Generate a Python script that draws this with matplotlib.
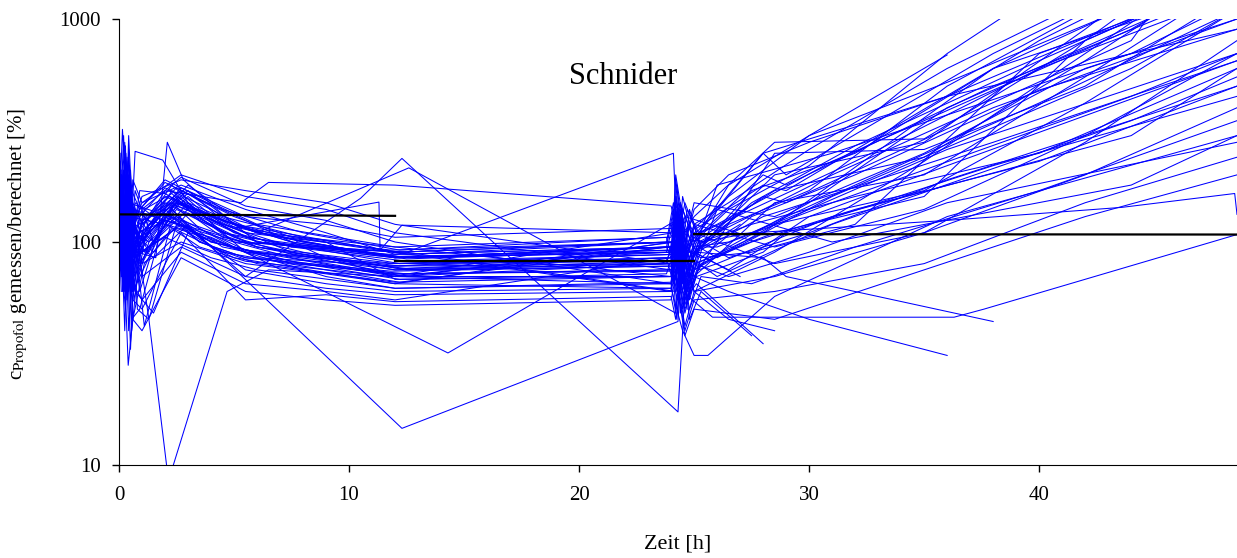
import matplotlib
matplotlib.use("Agg")
import matplotlib.pyplot as plt

# sampling schedules (h) shared by groups of patients
S1 = [0.05, 0.2, 0.35, 0.55, 0.9, 2.0, 4.0, 6.0, 12.0, 24.0, 24.25, 24.5, 25.0, 26.5, 30.0, 36.0, 48.6]
S2 = [0.1, 0.25, 0.45, 0.65, 1.3, 2.5, 5.0, 7.5, 12.5, 24.2, 24.4, 24.8, 25.3, 27.5, 32.0, 40.0, 48.6]
S3 = [0.08, 0.3, 0.5, 0.7, 1.5, 3.0, 4.5, 8.0, 12.2, 23.8, 24.1, 24.6, 25.1, 28.0, 29.0, 38.0, 48.6]
S4 = [0.03, 0.15, 0.4, 0.6, 1.1, 2.3, 3.5, 5.5, 11.8, 24.1, 24.3, 24.7, 25.2, 26.0, 31.0, 44.0, 48.6]
S5 = [0.12, 0.28, 0.42, 0.6, 1.0, 2.7, 5.5, 9.0, 12.0, 24.0, 24.2, 24.6, 25.0, 28.5, 35.0, 42.0, 48.6]

# measured/predicted propofol concentration [%], one list per patient
A1 = [180, 95, 240, 70, 130, 175, 140, 110, 85, 95, 160, 70, 120, 150, 260, 600, 2600]
A2 = [110, 210, 60, 150, 95, 150, 120, 95, 75, 80, 55, 130, 90, 120, 170, 500, 2500]
A3 = [90, 140, 120, 45, 50, 130, 100, 90, 70, 95, 110, 60, 95, 100, 140, 260, 700]
A4 = [140, 60, 190, 100, 80, 120, 105, 85, 78, 90, 140, 80, 105, 85, 110, 190, 500]
A5 = [230, 130, 85, 170, 140, 190, 150, 120, 95, 70, 75, 160, 100, 180, 300, 520, 1800]
A6 = [75, 160, 55, 120, 60, 140, 95, 80, 66, 70, 90, 50, 80, 70, 90, 150, 280]
A7 = [120, 300, 110, 40, 90, 105, 85, 75, 62, 65, 45, 100, 75, 95, 150, 400, 1500]
A8 = [160, 85, 140, 95, 170, 165, 125, 100, 90, 60, 180, 90, 140, 200, 280, 450, 900]
A9 = [100, 180, 80, 150, 120, 160, 130, 110, 95, 105, 130, 85, 115, 160, 300, 690]
A10 = [95, 60, 150, 75, 110, 135, 100, 90, 75, 80, 60, 110, 70, 60, 45, 31]
A11 = [85, 200, 130, 60, 105, 125, 110, 95, 80, 85, 120, 65, 90, 75, 130, 220, 650]
A12 = [250, 70, 160, 110, 140, 185, 145, 100, 85, 95, 75, 140, 100, 140, 220, 700, 5000]

B1 = [130, 65, 220, 90, 120, 160, 110, 95, 82, 88, 130, 60, 100, 110, 180, 420, 1100]
B2 = [200, 90, 140, 60, 100, 150, 120, 100, 85, 95, 150, 75, 110, 140, 230, 600, 1300]
B3 = [70, 150, 90, 130, 45, 120, 100, 85, 70, 100, 85, 50, 70, 65, 95, 170, 350]
B4 = [110, 40, 180, 120, 90, 145, 115, 90, 75, 78, 120, 90, 85, 130, 200, 480, 900]
B5 = [160, 280, 100, 55, 130, 175, 130, 105, 88, 100, 60, 140, 95, 170, 250, 800, 2200]
B6 = [90, 120, 65, 110, 100, 130, 95, 80, 72, 75, 100, 55, 85, 90, 120, 700, 1500]
B7 = [140, 80, 190, 100, 115, 155, 115, 95, 90, 60, 140, 70, 100, 120, 160, 250, 600]
B8 = [120, 60, 150, 85, 95, 140, 105, 88, 76, 82, 110, 45, 60, 38]
B9 = [100, 220, 75, 140, 110, 150, 120, 100, 84, 92, 70, 120, 95, 150, 270, 650, 1600]
B10 = [80, 130, 170, 70, 95, 115, 95, 82, 70, 70, 90, 60, 80, 100, 140, 230, 500]

C1 = [110, 250, 90, 150, 130, 170, 125, 100, 85, 95, 140, 75, 105, 200, 180, 500, 1400]
C2 = [95, 55, 160, 110, 90, 135, 105, 88, 78, 80, 105, 60, 80, 110, 130, 600, 1400]
C3 = [180, 100, 70, 140, 120, 180, 140, 110, 92, 105, 80, 150, 110, 250, 200, 700, 2400]
C4 = [130, 200, 85, 120, 100, 150, 110, 95, 80, 82, 100, 70, 90, 85, 70, 44]
C5 = [90, 140, 33, 100, 85, 120, 95, 80, 68, 72, 90, 55, 65, 35]
C6 = [140, 75, 210, 95, 115, 160, 120, 100, 86, 90, 125, 70, 95, 160, 150, 400, 1000]
C7 = [75, 120, 95, 60, 48, 110, 90, 78, 66, 95, 80, 50, 70, 90, 110, 220, 450]
C8 = [200, 110, 145, 80, 125, 165, 130, 105, 90, 100, 150, 80, 115, 180, 170, 600, 1900]
C9 = [125, 60, 95, 170, 100, 140, 110, 90, 76, 85, 65, 115, 90, 130, 140, 280, 650]

D1 = [150, 320, 120, 60, 110, 170, 130, 105, 86, 92, 130, 70, 100, 110, 200, 800, 3500]
D2 = [100, 70, 180, 90, 130, 150, 115, 92, 78, 85, 110, 60, 95, 85, 160, 600, 1100]
D3 = [85, 150, 100, 130, 42, 125, 100, 85, 72, 74, 95, 55, 80, 70, 120, 350, 550]
D4 = [210, 90, 150, 70, 120, 180, 140, 110, 92, 100, 70, 140, 110, 120, 230, 900, 1700]
D5 = [120, 60, 90, 140, 100, 140, 105, 90, 80, 88, 120, 75, 95, 95, 150, 450, 700]
D6 = [95, 180, 70, 110, 90, 130, 100, 85, 74, 78, 100, 60, 85, 140, 100, 180, 300]
D7 = [170, 100, 230, 85, 140, 165, 125, 100, 88, 95, 140, 80, 105, 180, 250, 700, 1200]
D8 = [60, 130, 28, 45, 80, 115, 95, 82, 70, 110, 55, 95, 75, 80, 130, 300, 600]

F1 = [130, 70, 260, 110, 90, 120, 75, 65, 60, 62, 85, 48, 70, 250, 260, 500, 1300]
F2 = [95, 180, 60, 140, 70, 95, 70, 62, 58, 60, 75, 42, 60, 90, 230, 700, 2000]
F3 = [210, 110, 80, 190, 150, 200, 160, 140, 110, 75, 190, 100, 150, 130, 250, 600, 1000]
F4 = [80, 50, 120, 65, 55, 90, 65, 60, 55, 85, 70, 40, 55, 60, 80, 150, 240]
F5 = [150, 270, 90, 120, 160, 190, 170, 150, 120, 80, 200, 110, 130, 280, 290, 800, 2500]
F6 = [105, 60, 150, 85, 100, 160, 90, 70, 62, 66, 90, 52, 75, 120, 170, 420, 1100]
F7 = [175, 95, 130, 60, 110, 175, 130, 120, 105, 115, 160, 85, 110, 80, 110, 200, 400]
F8 = [60, 110, 40, 90, 80, 100, 80, 72, 65, 100, 50, 85, 70, 150, 200, 550, 1500]
F9 = [140, 230, 120, 75, 125, 150, 115, 100, 68, 70, 95, 60, 80, 110, 160, 800, 1600]
F10 = [115, 70, 200, 100, 140, 195, 145, 125, 100, 65, 150, 90, 120, 95, 140, 300, 700]
F11 = [90, 150, 75, 55, 50, 110, 55, 58, 54, 57, 45, 80, 60, 70, 110, 280, 800]
F12 = [190, 80, 110, 150, 120, 170, 125, 85, 70, 80, 120, 60, 90, 200, 280, 900, 3000]
F13 = [70, 130, 100, 45, 40, 85, 60, 55, 52, 55, 70, 38, 50, 45, 75, 130, 200]
F14 = [160, 95, 300, 120, 150, 180, 140, 110, 88, 95, 135, 70, 100, 170, 240, 650, 1800]

# patients with their own sampling times
E1_t = [0.1, 0.3, 0.5, 0.8, 1.3, 2.15, 4.7, 6.5, 12.0, 24.0, 24.3, 24.7]
E1_c = [120, 70, 180, 50, 45, 8.5, 60, 75, 70, 65, 120, 50]
E2_t = [0.2, 0.5, 0.8, 2.5, 5.5, 10.5, 12.3, 24.3, 24.6, 25.0, 27.0]
E2_c = [150, 60, 110, 130, 70, 157, 237, 17.3, 60, 90, 120]
E3_t = [0.15, 0.45, 1.0, 2.4, 6.0, 12.6, 24.2, 24.5, 25.0]
E3_c = [90, 170, 80, 150, 110, 215, 48, 120, 80]
E4_t = [0.3, 0.6, 2.3, 4.1, 12.3, 24.3, 24.5, 25.0, 26.5, 28.5]
E4_c = [110, 60, 140, 93, 14.6, 44, 100, 60, 45, 40]
E5_t = [0.2, 0.6, 2.5, 5.5, 14.3, 24.1, 24.6]
E5_c = [90, 140, 120, 90, 31.8, 123, 60]
E6_t = [0.1, 0.4, 1.0, 2.2, 5.0, 12.5, 24.1, 24.4, 25.0, 27.0]
E6_c = [140, 80, 120, 160, 100, 90, 250, 48, 90, 70]
E7_t = [0.25, 0.6, 2.2, 5.0, 11.3, 11.35, 12.3, 24.0, 24.4, 25.1]
E7_c = [130, 90, 150, 115, 151, 92, 119, 110, 150, 95]
E8_t = [0.1, 0.4, 0.8, 1.6, 2.1, 2.8, 5.0, 12.0, 24.0, 24.5]
E8_c = [200, 120, 90, 85, 280, 190, 120, 90, 100, 70]
E9_t = [0.1, 0.4, 0.7, 1.9, 3.0, 6.0, 12.0, 24.0, 24.3]
E9_c = [110, 60, 255, 233, 150, 110, 85, 90, 140]
E10_t = [0.2, 0.6, 2.0, 5.3, 6.5, 12.0, 24.0, 24.5, 25.5, 28.0, 36.0, 48.6]
E10_c = [150, 100, 170, 150, 185, 180, 145, 90, 120, 250, 450, 1600]
E11_t = [0.1, 0.4, 2.2, 6.0, 12.0, 24.0, 24.5, 25.8, 36.3, 37.6, 48.6]
E11_c = [100, 150, 130, 95, 72, 75, 60, 46, 46, 50, 108]
E12_t = [0.2, 0.5, 2.5, 6.0, 12.0, 24.2, 24.6, 27.0, 36.0, 43.6, 48.5, 48.6]
E12_c = [120, 80, 150, 100, 85, 90, 130, 109, 125, 143, 165, 133]
E13_t = [0.15, 0.5, 2.0, 5.0, 12.0, 24.0, 24.5, 25.0, 25.6, 28.5, 36.0, 48.6]
E13_c = [80, 130, 120, 85, 65, 62, 40, 31, 31, 57, 130, 300]

SCHEDULED = [(S1, A1), (S1, A2), (S1, A3), (S1, A4), (S1, A5), (S1, A6), (S1, A7),
             (S1, A8), (S1, A9), (S1, A10), (S1, A11), (S1, A12),
             (S2, B1), (S2, B2), (S2, B3), (S2, B4), (S2, B5), (S2, B6), (S2, B7),
             (S2, B8), (S2, B9), (S2, B10),
             (S3, C1), (S3, C2), (S3, C3), (S3, C4), (S3, C5), (S3, C6), (S3, C7),
             (S3, C8), (S3, C9),
             (S4, D1), (S4, D2), (S4, D3), (S4, D4), (S4, D5), (S4, D6), (S4, D7), (S4, D8),
             (S5, F1), (S5, F2), (S5, F3), (S5, F4), (S5, F5), (S5, F6), (S5, F7),
             (S5, F8), (S5, F9), (S5, F10), (S5, F11), (S5, F12), (S5, F13), (S5, F14),
             (E1_t, E1_c), (E2_t, E2_c), (E3_t, E3_c), (E4_t, E4_c), (E5_t, E5_c),
             (E6_t, E6_c), (E7_t, E7_c), (E8_t, E8_c), (E9_t, E9_c), (E10_t, E10_c),
             (E11_t, E11_c), (E12_t, E12_c), (E13_t, E13_c)]

# mean ratio per period (black lines)
MEAN_T = [[0, 12], [12, 25], [25, 48.6]]
MEAN_C = [[133, 131], [82.5, 82.5], [108.5, 108]]

plt.rcParams["font.family"] = ["Liberation Serif", "DejaVu Serif"]
plt.rcParams["mathtext.fontset"] = "stix"

fig = plt.figure(figsize=(12.37, 5.58), dpi=100)
ax = fig.add_axes([119 / 1237, 1 - 465 / 558, 1118 / 1237, 446 / 558])

for t, c in SCHEDULED:
    ax.plot(t[:len(c)], c, color="#0000ff", linewidth=0.75)
for t, c in zip(MEAN_T, MEAN_C):
    ax.plot(t, c, color="black", linewidth=1.6)

ax.set_yscale("log")
ax.set_ylim(10, 1000)
ax.set_xlim(0, 48.6)
ax.set_xticks([0, 10, 20, 30, 40])
ax.set_yticks([10, 100, 1000])
ax.set_yticklabels(["10", "100", "1000"])
ax.minorticks_off()
ax.tick_params(labelsize=15, length=5, width=1, direction="out")
ax.tick_params(axis="x", pad=10)
ax.tick_params(axis="y", pad=8)
for s in ("top", "right"):
    ax.spines[s].set_visible(False)

ax.set_xlabel("Zeit [h]", fontsize=16)
ax.xaxis.set_label_coords(0.5, -0.155)
ax.set_ylabel(r"c$_{\rm Propofol}$ gemessen/berechnet [%]", fontsize=15)
ax.yaxis.set_label_coords(-0.08, 0.495)
ax.text(0.451, 0.87, "Schnider", transform=ax.transAxes, fontsize=22,
        ha="center", va="center")

fig.savefig("out.png", dpi=100)
